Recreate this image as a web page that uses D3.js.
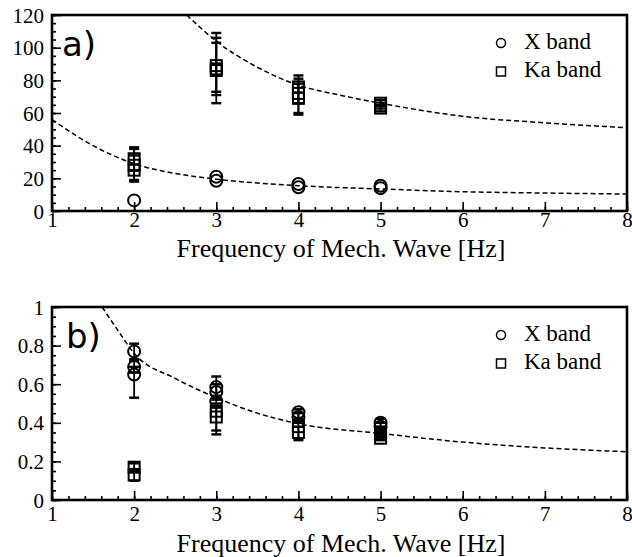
<!DOCTYPE html>
<html>
<head>
<meta charset="utf-8">
<script src="https://cdn.jsdelivr.net/npm/d3@7/dist/d3.min.js"></script>
<style>
  body { margin: 0; background: #fff; }
  svg { display: block; }
  .serif { font-family: "Liberation Serif", "DejaVu Serif", serif; }
  .sans { font-family: "DejaVu Sans", sans-serif; }
</style>
</head>
<body>
<svg id="chart" width="632" height="557"></svg>
<script>
// x ticks shared by both panels
const freqTicks = [1, 2, 3, 4, 5, 6, 7, 8];
const aTicks = [0, 20, 40, 60, 80, 100, 120];
const bTicks = [0, 0.2, 0.4, 0.6, 0.8, 1];
const bTickLabels = ['0', '0.2', '0.4', '0.6', '0.8', '1'];

// panel a) X band (circles)
const aX_f = [2, 3, 3, 4, 4, 5, 5];
const aX_v = [6.5, 21, 18.5, 16.5, 14.5, 15.5, 14];

// panel a) Ka band (squares) with error bars
const aKa_f = [2, 2, 2, 3, 3, 3, 4, 4, 4, 5, 5];
const aKa_v = [32, 28, 25, 89, 86, 87, 76, 72, 69, 66, 63];
const aKa_lo = [25, 19, 18, 73, 66, 71, 66, 60, 59, 64, 61];
const aKa_hi = [39, 38, 34, 109, 106, 103, 83, 81, 78, 68, 65];

// panel a) dashed fit curves (read off the picture)
const aFitHi_f = [2.64, 3, 3.5, 4, 4.5, 5, 6, 7, 8];
const aFitHi_v = [120, 104, 88, 77, 71, 66, 58, 54, 51];
const aFitLo_f = [1, 1.5, 2, 2.5, 3, 4, 5, 6, 7, 8];
const aFitLo_v = [56, 40, 29, 23, 19.5, 15.5, 13.5, 11.8, 11, 10.4];

// panel b) X band (circles)
const bX_f = [2, 2, 2, 3, 3, 3, 4, 4, 5, 5];
const bX_v = [0.77, 0.69, 0.65, 0.585, 0.56, 0.51, 0.455, 0.43, 0.40, 0.38];
const bX_lo = [0.73, 0.66, 0.53, 0.53, 0.52, 0.48, 0.42, 0.40, 0.38, 0.36];
const bX_hi = [0.81, 0.72, 0.69, 0.64, 0.60, 0.54, 0.47, 0.45, 0.42, 0.40];

// panel b) Ka band (squares)
const bKa_f = [2, 2, 3, 3, 4, 4, 5, 5];
const bKa_v = [0.17, 0.13, 0.46, 0.43, 0.38, 0.35, 0.35, 0.32];
const bKa_lo = [0.15, 0.10, 0.36, 0.34, 0.31, 0.32, 0.33, 0.31];
const bKa_hi = [0.19, 0.16, 0.50, 0.48, 0.41, 0.38, 0.37, 0.34];

// panel b) dashed fit curve
const bFit_f = [1.61, 1.8, 2, 2.5, 3, 3.5, 4, 5, 6, 7, 8];
const bFit_v = [1, 0.88, 0.76, 0.63, 0.53, 0.45, 0.395, 0.345, 0.30, 0.27, 0.25];

const legendNames = ['X band', 'Ka band'];

var svg = d3.select('#chart');
svg.append('rect').attr('width', 632).attr('height', 557).attr('fill', '#fff');

function zip(a, b) {
    return a.map((d, i) => [d, b[i]]);
}

function drawPanel(opt) {
    var x = d3.scaleLinear().domain([1, 8]).range([52, 627]);
    var y = d3.scaleLinear().domain(opt.domain).range([opt.bottom, opt.top]);
    var g = svg.append('g');

    // x axis: major + minor ticks, pointing inward
    var xMinor = g.append('g')
        .attr('transform', `translate(0,${opt.bottom})`)
        .call(d3.axisBottom(x).tickValues(d3.range(1, 8.001, 0.2)).tickSize(-4).tickFormat(''));
    var xMajor = g.append('g')
        .attr('transform', `translate(0,${opt.bottom})`)
        .call(d3.axisBottom(x).tickValues(freqTicks).tickSize(-9).tickPadding(opt.xPad).tickFormat(d3.format('d')));
    var yMinor = g.append('g')
        .attr('transform', 'translate(52,0)')
        .call(d3.axisLeft(y).tickValues(d3.range(opt.domain[0], opt.domain[1] + 1e-6, opt.minorStep)).tickSize(-4).tickFormat(''));
    var yMajor = g.append('g')
        .attr('transform', 'translate(52,0)')
        .call(d3.axisLeft(y).tickValues(opt.ticks).tickSize(-9).tickPadding(8).tickFormat((d, i) => opt.labels[i]));

    [xMinor, xMajor, yMinor, yMajor].forEach(a => {
        a.attr('font-family', null).attr('font-size', null);
        a.select('.domain').remove();
        a.selectAll('line').attr('stroke', '#000').attr('stroke-width', 1.6);
        a.selectAll('text').attr('class', 'serif').style('font-size', '21px').attr('fill', '#000');
    });
    yMajor.selectAll('text').attr('dy', '0.34em');

    // frame
    g.append('rect')
        .attr('x', 52).attr('y', opt.top)
        .attr('width', 575).attr('height', opt.bottom - opt.top)
        .attr('fill', 'none').attr('stroke', '#000').attr('stroke-width', 2.6);

    // dashed fits
    var clipId = 'clip' + opt.name;
    g.append('clipPath').attr('id', clipId)
        .append('rect').attr('x', 52).attr('y', opt.top).attr('width', 575).attr('height', opt.bottom - opt.top);
    var line = d3.line().x(d => x(d[0])).y(d => y(d[1])).curve(d3.curveMonotoneX);
    opt.fits.forEach(f => {
        g.append('path')
            .attr('d', line(zip(f[0], f[1])))
            .attr('clip-path', `url(#${clipId})`)
            .attr('fill', 'none').attr('stroke', '#000')
            .attr('stroke-width', 1.5).attr('stroke-dasharray', '5,3');
    });

    // error bars
    function errBars(fs, lo, hi) {
        var eb = g.append('g').attr('stroke', '#000').attr('stroke-width', 1.8);
        fs.forEach((f, i) => {
            if (lo[i] === hi[i]) return;
            eb.append('line').attr('x1', x(f)).attr('x2', x(f)).attr('y1', y(lo[i])).attr('y2', y(hi[i]));
            eb.append('line').attr('x1', x(f) - 5).attr('x2', x(f) + 5).attr('y1', y(lo[i])).attr('y2', y(lo[i])).attr('stroke-width', 2.4);
            eb.append('line').attr('x1', x(f) - 5).attr('x2', x(f) + 5).attr('y1', y(hi[i])).attr('y2', y(hi[i])).attr('stroke-width', 2.4);
        });
    }
    if (opt.xLo) errBars(opt.xF, opt.xLo, opt.xHi);
    errBars(opt.kaF, opt.kaLo, opt.kaHi);

    // squares (Ka band)
    g.append('g').selectAll('rect')
        .data(zip(opt.kaF, opt.kaV))
        .join('rect')
        .attr('x', d => x(d[0]) - 5.5).attr('y', d => y(d[1]) - 5.5)
        .attr('width', 11).attr('height', 11)
        .attr('fill', 'none').attr('stroke', '#000').attr('stroke-width', 2);

    // circles (X band)
    g.append('g').selectAll('circle')
        .data(zip(opt.xF, opt.xV))
        .join('circle')
        .attr('cx', d => x(d[0])).attr('cy', d => y(d[1])).attr('r', 6)
        .attr('fill', 'none').attr('stroke', '#000').attr('stroke-width', 2);

    // legend
    var lg = g.append('g').attr('transform', `translate(501,${opt.top + 28})`);
    lg.append('circle').attr('cx', 0).attr('cy', 0).attr('r', 4.5)
        .attr('fill', 'none').attr('stroke', '#000').attr('stroke-width', 1.5);
    lg.append('rect').attr('x', -4.5).attr('y', 24).attr('width', 9).attr('height', 9)
        .attr('fill', 'none').attr('stroke', '#000').attr('stroke-width', 1.5);
    lg.selectAll('text')
        .data(legendNames)
        .join('text')
        .attr('class', 'serif')
        .attr('x', 23).attr('y', (d, i) => 6 + i * 28)
        .style('font-size', '23px')
        .text(d => d);

    // panel label
    g.append('text')
        .attr('class', 'sans')
        .attr('x', opt.labelX).attr('y', opt.top + 41)
        .style('font-size', '34px')
        .text(opt.name + ')');

    // axis title
    g.append('text')
        .attr('class', 'serif')
        .attr('x', 341).attr('y', opt.titleY)
        .attr('text-anchor', 'middle')
        .style('font-size', '26px')
        .text('Frequency of Mech. Wave [Hz]');
}

drawPanel({
    name: 'a', top: 15, bottom: 211, domain: [0, 120], ticks: aTicks, labels: aTicks.map(String),
    minorStep: 5, xPad: 1, titleY: 257, labelX: 62,
    xF: aX_f, xV: aX_v,
    kaF: aKa_f, kaV: aKa_v, kaLo: aKa_lo, kaHi: aKa_hi,
    fits: [[aFitHi_f, aFitHi_v], [aFitLo_f, aFitLo_v]]
});

drawPanel({
    name: 'b', top: 307, bottom: 500, domain: [0, 1], ticks: bTicks, labels: bTickLabels,
    minorStep: 0.05, xPad: 6, titleY: 552, labelX: 66,
    xF: bX_f, xV: bX_v, xLo: bX_lo, xHi: bX_hi,
    kaF: bKa_f, kaV: bKa_v, kaLo: bKa_lo, kaHi: bKa_hi,
    fits: [[bFit_f, bFit_v]]
});
</script>
</body>
</html>
